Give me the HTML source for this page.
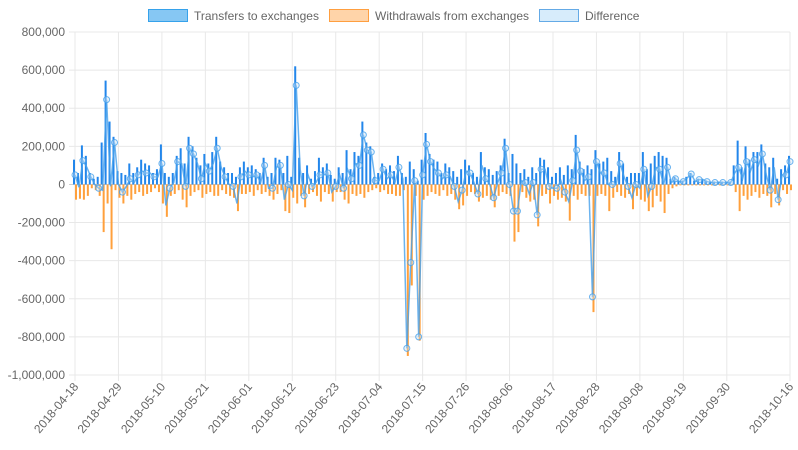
<!DOCTYPE html>
<html><head><meta charset="utf-8"><style>
html,body{margin:0;padding:0;background:#fff;}
svg{display:block;font-family:"Liberation Sans",sans-serif;}
</style></head><body>
<svg id="chart" width="798" height="450"></svg>
<script>
const transfers=[130,60,205,150,60,30,40,220,545,330,
250,70,60,50,110,60,90,130,110,100,
60,80,210,60,40,60,150,190,110,250,
200,140,100,160,110,170,250,120,90,60,
60,40,90,120,90,100,80,60,140,40,
60,140,130,60,150,40,620,140,60,100,
30,70,140,90,110,50,30,90,60,180,
80,170,150,330,220,200,40,60,110,80,
100,70,150,60,40,120,80,20,130,270,
160,130,120,60,110,90,70,40,80,130,
100,60,40,170,90,80,50,70,100,240,
60,160,110,60,80,40,90,60,140,130,
90,40,60,90,50,100,80,260,120,80,
100,80,180,110,120,140,70,40,170,110,
40,60,60,60,170,80,110,150,170,150,
140,30,40,20,20,40,60,20,30,30,
20,15,15,15,15,15,15,100,230,90,
200,130,170,170,210,110,90,140,30,80,
100,150];
const withdrawals=[-80,-75,-80,-60,-20,-30,-60,-250,-100,-340,
-30,-70,-100,-60,-80,-50,-40,-60,-50,-40,
-20,-40,-100,-170,-60,-50,-30,-80,-120,-60,
-40,-30,-70,-50,-40,-60,-60,-30,-50,-60,
-70,-140,-50,-50,-40,-60,-30,-50,-40,-60,
-80,-50,-30,-140,-150,-70,-100,-60,-120,-50,
-40,-60,-90,-40,-50,-90,-40,-40,-80,-100,
-50,-60,-50,-70,-40,-30,-20,-40,-30,-50,
-50,-60,-60,-30,-900,-530,-60,-820,-80,-60,
-40,-50,-60,-30,-60,-50,-80,-130,-110,-60,
-40,-50,-90,-70,-60,-80,-120,-60,-40,-50,
-60,-300,-250,-40,-70,-90,-80,-220,-60,-50,
-100,-60,-80,-70,-90,-190,-60,-80,-50,-60,
-60,-670,-60,-50,-60,-140,-70,-40,-60,-70,
-50,-130,-60,-80,-90,-140,-120,-60,-90,-150,
-50,-20,-10,-5,-5,-5,-5,-5,-5,-5,
-5,-5,-5,-5,-5,-5,-5,-40,-140,-60,
-80,-60,-40,-70,-50,-60,-120,-50,-110,-30,
-50,-30];
const yTicks=[800,600,400,200,0,-200,-400,-600,-800,-1000];
const xTickDays=[0,11,22,33,44,55,66,77,88,99,110,121,132,143,154,165,181];
const xTickLabels=["2018-04-18","2018-04-29","2018-05-10","2018-05-21","2018-06-01","2018-06-12","2018-06-23","2018-07-04","2018-07-15","2018-07-26","2018-08-06","2018-08-17","2018-08-28","2018-09-08","2018-09-19","2018-09-30","2018-10-16"];

const NS="http://www.w3.org/2000/svg";
const svg=document.getElementById('chart');
const L=75,R=790,T=32,B=375,N=transfers.length;
const x=d=>L+d*(R-L)/(N-1);
const y=v=>T+(800-v)*(B-T)/1800;
function mk(tag,attrs,parent){const e=document.createElementNS(NS,tag);for(const k in attrs)e.setAttribute(k,attrs[k]);(parent||svg).appendChild(e);return e;}

const grid=mk('g',{});


yTicks.forEach(v=>{
  const ln=mk('line',{x1:L-6,x2:R,y1:y(v),y2:y(v),stroke:v===0?'#cfcfcf':'#e8e8e8','stroke-width':1},grid);
  
  
  const t=mk('text',{x:L-10,y:y(v)+4,'text-anchor':'end','font-size':12,fill:'#666'});
  t.textContent=(v*1000).toLocaleString('en-US');
  
  
});
xTickDays.forEach((d,i)=>{
  const ln=mk('line',{x1:x(d),x2:x(d),y1:T,y2:B+6,stroke:'#e8e8e8','stroke-width':1},grid);
  
  
  const t=mk('text',{x:0,y:0,'text-anchor':'end','font-size':12,fill:'#666',transform:`translate(${x(d)+4},${B+12}) rotate(-50)`});
  t.textContent=xTickLabels[i];
  
  
});

const bars=mk('g',{});


const bw=2;
for(let d=0;d<N;d++){
  const y0=y(0);
  const b1=mk('rect',{x:x(d)-bw,y:Math.min(y(transfers[d]),y0),width:bw,height:Math.abs(y(transfers[d])-y0),fill:'rgb(34,134,235)'},bars);
  
  
  const b2=mk('rect',{x:x(d),y:Math.min(y(withdrawals[d]),y0),width:bw,height:Math.abs(y(withdrawals[d])-y0),fill:'rgb(255,160,60)'},bars);
  
  
}
const diff=transfers.map((v,i)=>v+withdrawals[i]);
const line=mk('polyline',{points:diff.map((v,i)=>x(i)+','+y(v)).join(' '),fill:'none',stroke:'rgba(70,160,235,0.8)','stroke-width':1.5});


diff.forEach((v,i)=>{
  if(i%2!==0 && Math.abs(v)<120 && i!==85 && i!==87) return;
  const c=mk('circle',{cx:x(i),cy:y(v),r:3,fill:'rgba(200,225,245,0.4)',stroke:'rgba(70,160,235,0.8)','stroke-width':1});
  
  
});

const leg=mk('g',{});


[[148,'rgba(54,162,235,0.6)','rgb(54,162,235)','Transfers to exchanges'],
 [329,'rgba(255,159,64,0.45)','rgb(255,159,64)','Withdrawals from exchanges'],
 [539,'rgba(54,162,235,0.2)','rgb(100,170,230)','Difference']].forEach(([lx,f,s,txt])=>{
  const r=mk('rect',{x:lx+0.5,y:9.5,width:39,height:12,fill:f,stroke:s,'stroke-width':1},leg);
  
  
  const t=mk('text',{x:lx+46,y:20,'font-size':12,fill:'#666'},leg);
  t.textContent=txt;
  
  
});
</script>
</body></html>
